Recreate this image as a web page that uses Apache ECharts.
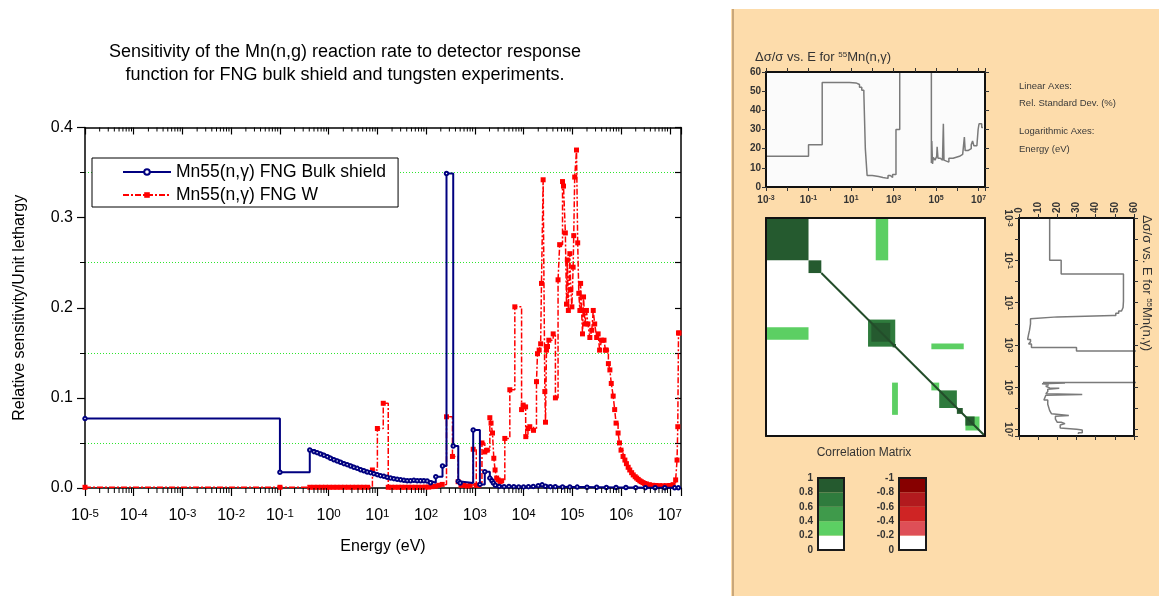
<!DOCTYPE html>
<html><head><meta charset="utf-8">
<script src="https://cdn.jsdelivr.net/npm/echarts@6/dist/echarts.min.js"></script>
<style>html,body{margin:0;padding:0;background:#fff}#c{width:1159px;height:596px}</style>
</head><body><div id="c"></div>
<script>
// ---------------- Left chart: sensitivity per unit lethargy (group lower bound, eV) ----------------
const NAME_BULK = 'Mn55(n,\u03b3) FNG Bulk shield';
const NAME_W = 'Mn55(n,\u03b3) FNG W';

const bulkEnergy = [1e-5, 0.1, 0.41, 0.50, 0.58, 0.68, 0.80, 0.94, 1.09, 1.28, 1.50, 1.75, 2.06, 2.40, 2.82, 3.30, 3.86, 4.52, 5.28, 6.18, 7.24, 8.47, 9.93, 11.6, 13.6, 15.9, 18.6, 21.8, 25.5, 29.9, 35.0, 40.9, 47.9, 56.1, 65.6, 76.8, 89.9, 105, 123, 158, 217, 262, 360, 457, 500, 925, 1270, 1600, 2030, 2240, 2400, 2630, 3160, 3980, 5010, 6310, 7940, 1.0e4, 1.26e4, 1.58e4, 2.0e4, 2.4e4, 2.8e4, 3.55e4, 4.47e4, 6.3e4, 8.9e4, 1.26e5, 2.0e5, 3.16e5, 5.0e5, 7.9e5, 1.26e6, 2.0e6, 3.16e6, 5.0e6, 7.9e6, 1.26e7, 1.5e7];
const bulkValue = [0.077, 0.0175, 0.0422, 0.0403, 0.0392, 0.0377, 0.0362, 0.0348, 0.0329, 0.0314, 0.0300, 0.0285, 0.0270, 0.0259, 0.0244, 0.0229, 0.0218, 0.0203, 0.0192, 0.0178, 0.0170, 0.0159, 0.0148, 0.0137, 0.0129, 0.0118, 0.0111, 0.0104, 0.0096, 0.0092, 0.0085, 0.0081, 0.0081, 0.0085, 0.0081, 0.0081, 0.0081, 0.0078, 0.0059, 0.0126, 0.0244, 0.349, 0.0466, 0.0074, 0.0055, 0.0644, 0.004, 0.018, 0.011, 0.008, 0.0055, 0.003, 0.0018, 0.0015, 0.0018, 0.0015, 0.0012, 0.0012, 0.0015, 0.0018, 0.0025, 0.0035, 0.002, 0.0015, 0.0015, 0.0012, 0.0012, 0.001, 0.0008, 0.0008, 0.0006, 0.0006, 0.0005, 0.0004, 0.0004, 0.0003, 0.0003, 0.0002, 0.0002];

const wEnergy = [1e-5, 0.1, 0.41, 0.50, 0.60, 0.72, 0.86, 1.03, 1.24, 1.48, 1.78, 2.13, 2.55, 3.06, 3.67, 4.40, 5.27, 6.32, 7.9, 10.0, 13.2, 16.7, 19.5, 23.0, 27.0, 31.5, 37.0, 43.5, 51.0, 60.0, 70.0, 82.0, 96.0, 113, 132, 155, 182, 214, 262, 347, 454, 520, 600, 700, 800, 925, 1070, 1200, 1400, 1600, 1800, 2030, 2150, 2300, 2450, 2600, 2800, 3000, 3300, 3550, 4120, 5220, 6610, 9100, 9800, 1.10e4, 1.11e4, 1.23e4, 1.34e4, 1.6e4, 1.84e4, 1.93e4, 2.09e4, 2.24e4, 2.33e4, 2.52e4, 2.73e4, 2.82e4, 2.95e4, 3.1e4, 3.3e4, 4.05e4, 4.5e4, 5.1e4, 5.5e4, 6.3e4, 6.6e4, 7.2e4, 7.6e4, 7.9e4, 8.3e4, 8.9e4, 9.3e4, 9.8e4, 1.04e5, 1.07e5, 1.12e5, 1.22e5, 1.29e5, 1.36e5, 1.43e5, 1.48e5, 1.55e5, 1.62e5, 1.70e5, 1.82e5, 1.95e5, 2.09e5, 2.29e5, 2.51e5, 2.69e5, 2.88e5, 3.16e5, 3.39e5, 3.63e5, 3.98e5, 4.47e5, 4.79e5, 5.0e5, 5.5e5, 5.9e5, 6.3e5, 6.9e5, 7.4e5, 7.9e5, 8.7e5, 9.3e5, 1.0e6, 1.1e6, 1.2e6, 1.29e6, 1.4e6, 1.51e6, 1.65e6, 1.78e6, 1.95e6, 2.09e6, 2.25e6, 2.43e6, 2.6e6, 2.82e6, 3.05e6, 3.31e6, 3.8e6, 4.47e6, 5.2e6, 6.17e6, 7.2e6, 8.5e6, 1.0e7, 1.17e7, 1.32e7, 1.41e7, 1.46e7, 1.51e7, 1.55e7];
const wValue = [0.0008, 0.0008, 0.0008, 0.0008, 0.0008, 0.0008, 0.0008, 0.0008, 0.0008, 0.0008, 0.0008, 0.0008, 0.0008, 0.0008, 0.0008, 0.0008, 0.0008, 0.0008, 0.020, 0.066, 0.094, 0.0008, 0.0008, 0.0008, 0.0008, 0.0008, 0.0008, 0.0008, 0.0008, 0.0008, 0.0008, 0.0008, 0.001, 0.001, 0.0015, 0.002, 0.003, 0.004, 0.079, 0.035, 0.007, 0.003, 0.003, 0.002, 0.003, 0.043, 0.003, 0.003, 0.050, 0.040, 0.042, 0.078, 0.072, 0.061, 0.033, 0.020, 0.011, 0.009, 0.007, 0.008, 0.055, 0.109, 0.201, 0.087, 0.092, 0.090, 0.057, 0.066, 0.068, 0.064, 0.118, 0.149, 0.153, 0.160, 0.227, 0.342, 0.107, 0.073, 0.153, 0.157, 0.164, 0.171, 0.100, 0.231, 0.270, 0.340, 0.335, 0.283, 0.204, 0.253, 0.197, 0.260, 0.220, 0.201, 0.245, 0.280, 0.345, 0.375, 0.272, 0.216, 0.197, 0.227, 0.197, 0.171, 0.212, 0.182, 0.197, 0.182, 0.167, 0.175, 0.197, 0.182, 0.167, 0.171, 0.153, 0.164, 0.164, 0.153, 0.153, 0.138, 0.131, 0.116, 0.102, 0.087, 0.072, 0.061, 0.050, 0.042, 0.035, 0.031, 0.027, 0.023, 0.020, 0.017, 0.0145, 0.0125, 0.011, 0.0095, 0.008, 0.007, 0.006, 0.005, 0.0045, 0.0037, 0.003, 0.0028, 0.0026, 0.0025, 0.0026, 0.0028, 0.0037, 0.009, 0.031, 0.068, 0.172, 0.172];

// ---------------- Right panel: relative standard deviation (%) of 55Mn(n,γ) ----------------
const sdEnergy = [1e-3, 0.1, 0.44, 3, 8.5, 17, 25, 32, 40, 47, 57, 100, 200, 316, 550, 700, 900, 1300, 1950, 6.0e4, 6.3e4, 6.8e4, 7.4e4, 8.9e4, 1.07e5, 1.12e5, 1.23e5, 1.58e5, 2.0e5, 2.2e5, 2.35e5, 2.8e5, 4.0e5, 6.3e5, 8.9e5, 1.26e6, 1.78e6, 2.14e6, 2.34e6, 3.16e6, 4.5e6, 5.2e6, 6.0e6, 8.3e6, 9.5e6, 1.05e7, 1.4e7, 1.6e7];
const sdValue = [16, 22, 54.5, 54.5, 54.3, 53.5, 52, 50.5, 49, 20, 6, 5.5, 5, 4.5, 6, 5, 6.5, 30, 80, 12.5, 24, 12, 15.5, 14, 16, 21, 15, 14, 13.5, 33, 14, 13, 15, 15.5, 16, 17, 18, 26, 19, 20, 22, 24, 21.5, 22, 30, 33, 31, 31];

// correlation blocks: [E_col_low, E_col_high, E_row_low, E_row_high, correlation]
const corrBlocks = [
  [1e-3, 0.1, 1e-3, 0.1, 0.9],
  [0.1, 0.4, 0.1, 0.4, 0.9],
  [145, 560, 1e-3, 0.1, 0.3],
  [1e-3, 0.1, 145, 560, 0.3],
  [63, 1200, 63, 1200, 0.7],
  [90, 700, 90, 700, 0.9],
  [900, 1300, 900, 1300, 0.9],
  [6e4, 2e6, 850, 1600, 0.3],
  [850, 1600, 6e4, 2e6, 0.3],
  [6e4, 1.4e5, 6e4, 1.4e5, 0.3],
  [1.4e5, 9.5e5, 1.4e5, 9.5e5, 0.7],
  [9.5e5, 1.8e6, 9.5e5, 1.8e6, 0.9],
  [2.4e6, 1.1e7, 2.4e6, 1.1e7, 0.3],
  [2.4e6, 6.5e6, 2.4e6, 6.5e6, 0.9]
];
const corrDiagonal = [[0.4, 0.4], [2e7, 2e7]];

// colour scale legend
const posTicks = ['0', '0.2', '0.4', '0.6', '0.8', '1'];
const posColors = ['#ffffff', '#5ccf63', '#3f9a4b', '#2f7b3d', '#255a2f'];
const negColors = ['#ffffff', '#de4f57', '#cf2424', '#b21a1e', '#870000'];
const binSize = 0.2;

// ------------------------------------------------------------------------------------------
function isPow10(v) { const l = Math.log10(v); return Math.abs(l - Math.round(l)) < 1e-6; }
function powLabel(v) { if (!isPow10(v)) return ''; return '{b|10}{s|' + Math.round(Math.log10(v)) + '}'; }
function oddPowLabel(v) {
  if (!isPow10(v)) return '';
  const e = Math.round(Math.log10(v));
  if (Math.abs(e) % 2 !== 1) return '';
  return '{b|10}{s|' + e + '}';
}
function corrColor(c) {
  const idx = Math.min(4, Math.floor(Math.abs(c) / binSize));
  return c >= 0 ? posColors[idx] : negColors[idx];
}
const FF = 'Liberation Sans';
const leftRich = {
  b: { fontSize: 16, color: '#000', fontFamily: FF, lineHeight: 16, verticalAlign: 'bottom' },
  s: { fontSize: 11.5, color: '#000', fontFamily: FF, lineHeight: 11, verticalAlign: 'top' }
};
const smallRich = {
  b: { fontSize: 10, color: '#333', fontWeight: 'bold', fontFamily: FF, lineHeight: 10, verticalAlign: 'bottom' },
  s: { fontSize: 7, color: '#333', fontWeight: 'bold', fontFamily: FF, lineHeight: 7, verticalAlign: 'top' }
};
const frame = { show: true, onZero: false, lineStyle: { color: '#111', width: 2 } };
const smallTick = { show: true, length: 4, lineStyle: { color: '#333', width: 1 } };
const smallLabel = { fontSize: 10, fontWeight: 'bold', color: '#333', fontFamily: FF };

// minor tick positions on the left log axis (axis decoration)
const minorTicks = [];
for (let n = -5; n < 7; n++) for (let k = 2; k <= 9; k++) minorTicks.push([k * Math.pow(10, n), 0]);

// vertical step path for the rotated panel, built from the same arrays
const sdRot = [];
for (let i = 0; i < sdEnergy.length - 1; i++) {
  sdRot.push([sdValue[i], sdEnergy[i]]);
  sdRot.push([sdValue[i], sdEnergy[i + 1]]);
}

const chart = echarts.init(document.getElementById('c'));
const option = {
  animation: false,
  textStyle: { fontFamily: FF },
  graphic: [
    { type: 'rect', shape: { x: 731, y: 9, width: 428, height: 587 }, style: { fill: '#fddcab' }, z: -100, silent: true },
    { type: 'line', shape: { x1: 733, y1: 9, x2: 733, y2: 596 }, style: { stroke: '#c9a77a', lineWidth: 2 }, z: -99, silent: true },
    { type: 'text', x: 345, y: 52, style: { text: 'Sensitivity of the Mn(n,g) reaction rate to detector response', font: '18px "Liberation Sans"', fill: '#000', align: 'center', verticalAlign: 'middle' } },
    { type: 'text', x: 345, y: 75, style: { text: 'function for FNG bulk shield and tungsten experiments.', font: '18px "Liberation Sans"', fill: '#000', align: 'center', verticalAlign: 'middle' } },
    { type: 'text', x: 755, y: 57, style: { text: '{a|\u0394\u03c3/\u03c3 vs. E for }{s|55}{a|Mn(n,\u03b3)}', verticalAlign: 'middle',
        rich: { a: { fontSize: 13, fill: '#333', fontFamily: FF, lineHeight: 13, verticalAlign: 'bottom' }, s: { fontSize: 8, fill: '#333', fontFamily: FF, lineHeight: 8, verticalAlign: 'top' } } } },
    { type: 'text', x: 1147, y: 283, rotation: -Math.PI / 2, style: { text: '{a|\u0394\u03c3/\u03c3 vs. E for }{s|55}{a|Mn(n,\u03b3)}', align: 'center', verticalAlign: 'middle',
        rich: { a: { fontSize: 13, fill: '#333', fontFamily: FF, lineHeight: 13, verticalAlign: 'bottom' }, s: { fontSize: 8, fill: '#333', fontFamily: FF, lineHeight: 8, verticalAlign: 'top' } } } },
    { type: 'text', x: 1019, y: 86, style: { text: 'Linear Axes:', font: '9.5px "Liberation Sans"', fill: '#3a3a3a', verticalAlign: 'middle' } },
    { type: 'text', x: 1019, y: 103, style: { text: 'Rel. Standard Dev. (%)', font: '9.5px "Liberation Sans"', fill: '#3a3a3a', verticalAlign: 'middle' } },
    { type: 'text', x: 1019, y: 131, style: { text: 'Logarithmic Axes:', font: '9.5px "Liberation Sans"', fill: '#3a3a3a', verticalAlign: 'middle' } },
    { type: 'text', x: 1019, y: 149, style: { text: 'Energy (eV)', font: '9.5px "Liberation Sans"', fill: '#3a3a3a', verticalAlign: 'middle' } },
    { type: 'text', x: 864, y: 453, style: { text: 'Correlation Matrix', font: '12px "Liberation Sans"', fill: '#333', align: 'center', verticalAlign: 'middle' } }
  ],
  legend: {
    data: [NAME_BULK, NAME_W], orient: 'vertical', left: 92, top: 158,
    backgroundColor: '#fff', borderColor: '#000', borderWidth: 1, borderRadius: 0,
    padding: [5, 12, 3, 30], itemWidth: 48, itemHeight: 7, itemGap: 5,
    textStyle: { fontSize: 17.5, color: '#000', fontFamily: FF }, selectedMode: false
  },
  grid: [
    { left: 85, top: 127.5, width: 596, height: 360.5 },
    { left: 766, top: 72, width: 219, height: 115, show: true, backgroundColor: '#fbfbfb', borderWidth: 0 },
    { left: 766, top: 218, width: 219, height: 218, show: true, backgroundColor: '#ffffff', borderWidth: 0 },
    { left: 1019, top: 218, width: 115, height: 218, show: true, backgroundColor: '#ffffff', borderWidth: 0 },
    { left: 818, top: 478, width: 26, height: 72, show: true, backgroundColor: 'transparent', borderColor: '#1a1a1a', borderWidth: 2, z: 10 },
    { left: 899, top: 478, width: 27, height: 72, show: true, backgroundColor: 'transparent', borderColor: '#1a1a1a', borderWidth: 2, z: 10 }
  ],
  xAxis: [
    { gridIndex: 0, type: 'log', logBase: 10, min: 1e-5, max: 1.7e7, interval: 1, position: 'bottom',
      axisLine: { show: true, onZero: false, lineStyle: { color: '#000', width: 1.5 } },
      axisTick: { show: true, length: 8, lineStyle: { color: '#000', width: 1.2 } },
      axisLabel: { margin: 20, formatter: powLabel, rich: leftRich },
      splitLine: { show: false },
      name: 'Energy (eV)', nameLocation: 'middle', nameGap: 51, nameTextStyle: { fontSize: 16, color: '#000', fontFamily: FF } },
    { gridIndex: 0, type: 'log', logBase: 10, min: 1e-5, max: 1.7e7, interval: 1, position: 'top',
      axisLine: { show: true, onZero: false, lineStyle: { color: '#000', width: 1.5 } },
      axisTick: { show: true, inside: true, length: 7, lineStyle: { color: '#000', width: 1.2 } },
      axisLabel: { show: false }, splitLine: { show: false } },
    { gridIndex: 1, type: 'log', logBase: 10, min: 1e-3, max: 2e7, interval: 1, position: 'bottom', z: 10,
      axisLine: frame, axisTick: smallTick, axisLabel: { margin: 8, formatter: oddPowLabel, rich: smallRich }, splitLine: { show: false } },
    { gridIndex: 1, type: 'log', logBase: 10, min: 1e-3, max: 2e7, interval: 1, position: 'top', z: 10,
      axisLine: frame, axisTick: smallTick, axisLabel: { show: false }, splitLine: { show: false } },
    { gridIndex: 2, type: 'log', logBase: 10, min: 1e-3, max: 2e7, interval: 1, position: 'bottom', z: 10,
      axisLine: frame, axisTick: { show: false }, axisLabel: { show: false }, splitLine: { show: false } },
    { gridIndex: 2, type: 'log', logBase: 10, min: 1e-3, max: 2e7, interval: 1, position: 'top', z: 10,
      axisLine: frame, axisTick: { show: false }, axisLabel: { show: false }, splitLine: { show: false } },
    { gridIndex: 3, type: 'value', min: 0, max: 60, interval: 10, position: 'top', z: 10,
      axisLine: frame, axisTick: smallTick, axisLabel: Object.assign({ rotate: -90, margin: 5 }, smallLabel), splitLine: { show: false } },
    { gridIndex: 3, type: 'value', min: 0, max: 60, interval: 10, position: 'bottom', z: 10,
      axisLine: frame, axisTick: smallTick, axisLabel: { show: false }, splitLine: { show: false } },
    { gridIndex: 4, type: 'category', data: [''], show: false },
    { gridIndex: 5, type: 'category', data: [''], show: false }
  ],
  yAxis: [
    { gridIndex: 0, type: 'value', min: 0, max: 0.4, interval: 0.1, position: 'left',
      axisLine: { show: true, lineStyle: { color: '#000', width: 1.5 } },
      axisTick: { show: true, length: 8, lineStyle: { color: '#000', width: 1.2 } },
      minorTick: { show: true, splitNumber: 2, length: 5, lineStyle: { color: '#000', width: 1 } },
      minorSplitLine: { show: true, lineStyle: { color: '#2ee62e', width: 1, type: [1, 2] } },
      splitLine: { show: false },
      axisLabel: { fontSize: 16, color: '#000', margin: 12, formatter: v => v.toFixed(1) },
      name: 'Relative sensitivity/Unit lethargy', nameLocation: 'middle', nameGap: 57, nameTextStyle: { fontSize: 16, color: '#000', fontFamily: FF } },
    { gridIndex: 0, type: 'value', min: 0, max: 0.4, interval: 0.05, position: 'right',
      axisLine: { show: true, lineStyle: { color: '#000', width: 1.5 } },
      axisTick: { show: true, inside: true, length: 6, lineStyle: { color: '#000', width: 1.2 } },
      axisLabel: { show: false }, splitLine: { show: false } },
    { gridIndex: 1, type: 'value', min: 0, max: 60, interval: 10, position: 'left', z: 10,
      axisLine: frame, axisTick: smallTick, axisLabel: Object.assign({ margin: 5 }, smallLabel), splitLine: { show: false } },
    { gridIndex: 1, type: 'value', min: 0, max: 60, interval: 10, position: 'right', z: 10,
      axisLine: frame, axisTick: smallTick, axisLabel: { show: false }, splitLine: { show: false } },
    { gridIndex: 2, type: 'log', logBase: 10, min: 1e-3, max: 2e7, interval: 1, inverse: true, position: 'left', z: 10,
      axisLine: frame, axisTick: { show: false }, axisLabel: { show: false }, splitLine: { show: false } },
    { gridIndex: 2, type: 'log', logBase: 10, min: 1e-3, max: 2e7, interval: 1, inverse: true, position: 'right', z: 10,
      axisLine: frame, axisTick: { show: false }, axisLabel: { show: false }, splitLine: { show: false } },
    { gridIndex: 3, type: 'log', logBase: 10, min: 1e-3, max: 2e7, interval: 1, inverse: true, position: 'left', z: 10,
      axisLine: frame, axisTick: smallTick, axisLabel: { rotate: -90, margin: 6, formatter: oddPowLabel, rich: smallRich }, splitLine: { show: false } },
    { gridIndex: 3, type: 'log', logBase: 10, min: 1e-3, max: 2e7, interval: 1, inverse: true, position: 'right', z: 10,
      axisLine: frame, axisTick: smallTick, axisLabel: { show: false }, splitLine: { show: false } },
    { gridIndex: 4, type: 'value', min: 0, max: 1, interval: binSize, axisLine: { show: false }, axisTick: { show: false }, splitLine: { show: false },
      axisLabel: Object.assign({ margin: 5, formatter: v => posTicks[Math.round(v / binSize)] }, smallLabel) },
    { gridIndex: 5, type: 'value', min: -1, max: 0, interval: binSize, inverse: true, axisLine: { show: false }, axisTick: { show: false }, splitLine: { show: false },
      axisLabel: Object.assign({ margin: 5, formatter: v => (v === 0 ? '0' : '-' + posTicks[Math.round(-v / binSize)]) }, smallLabel) }
  ],
  series: [
    { type: 'custom', name: 'minorTicks', xAxisIndex: 0, yAxisIndex: 0, data: minorTicks, silent: true, z: 5, clip: false,
      renderItem: function (params, api) {
        const e = api.value(0);
        const b = api.coord([e, 0]);
        const t = api.coord([e, 0.4]);
        return { type: 'group', children: [
          { type: 'line', shape: { x1: b[0], y1: b[1], x2: b[0], y2: b[1] + 5 }, style: { stroke: '#000', lineWidth: 1 } },
          { type: 'line', shape: { x1: t[0], y1: t[1], x2: t[0], y2: t[1] + 4 }, style: { stroke: '#000', lineWidth: 1 } }
        ] };
      } },
    { type: 'line', name: NAME_W, xAxisIndex: 0, yAxisIndex: 0, step: 'end', z: 2,
      data: wEnergy.map((e, i) => [e, wValue[i]]),
      symbol: 'rect', symbolSize: 5, showSymbol: true,
      lineStyle: { color: '#ff0000', width: 1.5, type: [6, 2, 2, 2] }, itemStyle: { color: '#ff0000' } },
    { type: 'line', name: NAME_BULK, xAxisIndex: 0, yAxisIndex: 0, step: 'end', z: 3,
      data: bulkEnergy.map((e, i) => [e, bulkValue[i]]),
      symbol: 'emptyCircle', symbolSize: 3.5, showSymbol: true,
      lineStyle: { color: '#000080', width: 2 }, itemStyle: { color: '#000080', borderWidth: 1 } },
    { type: 'line', name: 'sd', xAxisIndex: 2, yAxisIndex: 2, step: 'end', clip: true, symbol: 'none', silent: true,
      data: sdEnergy.map((e, i) => [e, sdValue[i]]),
      lineStyle: { color: '#7a7a7a', width: 1.5 } },
    { type: 'custom', name: 'corr', xAxisIndex: 4, yAxisIndex: 4, data: corrBlocks, silent: true, clip: true,
      encode: { x: [0, 1], y: [2, 3] },
      renderItem: function (params, api) {
        const p0 = api.coord([api.value(0), api.value(2)]);
        const p1 = api.coord([api.value(1), api.value(3)]);
        return { type: 'rect', shape: { x: Math.min(p0[0], p1[0]), y: Math.min(p0[1], p1[1]), width: Math.abs(p1[0] - p0[0]), height: Math.abs(p1[1] - p0[1]) },
          style: { fill: corrColor(api.value(4)) } };
      } },
    { type: 'line', name: 'diag', xAxisIndex: 4, yAxisIndex: 4, data: corrDiagonal, symbol: 'none', silent: true,
      lineStyle: { color: '#234d2a', width: 2 } },
    { type: 'line', name: 'sdRot', xAxisIndex: 6, yAxisIndex: 6, data: sdRot, symbol: 'none', silent: true, clip: true,
      lineStyle: { color: '#7a7a7a', width: 1.5 } }
  ]
};
posColors.forEach(function (c) {
  option.series.push({ type: 'bar', xAxisIndex: 8, yAxisIndex: 8, stack: 'pos', data: [binSize], barWidth: '100%', silent: true, itemStyle: { color: c } });
});
negColors.forEach(function (c) {
  option.series.push({ type: 'bar', xAxisIndex: 9, yAxisIndex: 9, stack: 'neg', data: [-binSize], barWidth: '100%', silent: true, itemStyle: { color: c } });
});
chart.setOption(option);
</script>
</body></html>
